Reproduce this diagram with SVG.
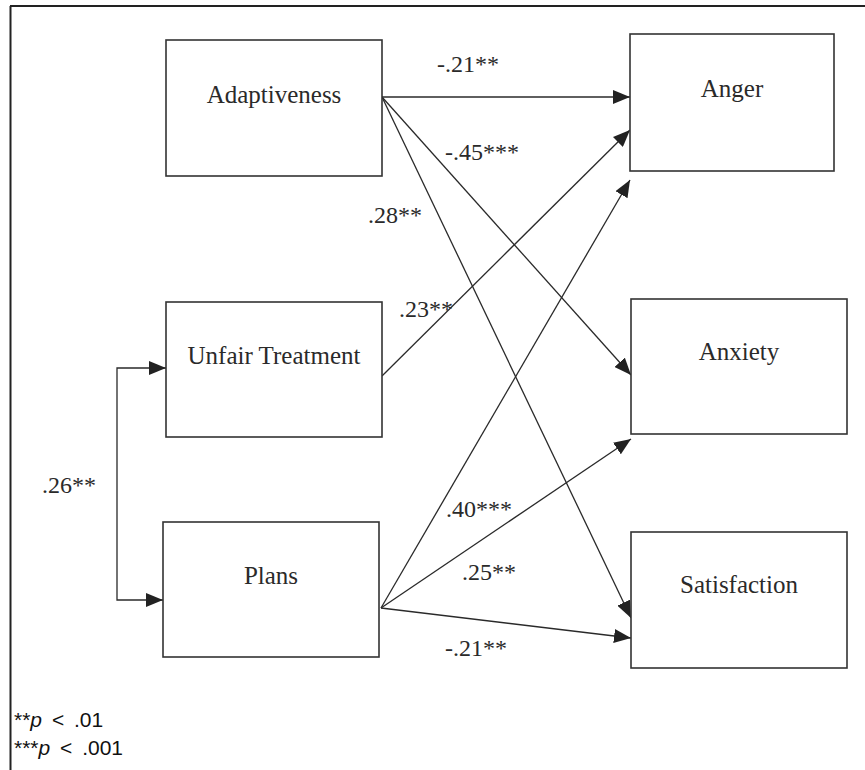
<svg xmlns="http://www.w3.org/2000/svg" width="865" height="770" viewBox="0 0 865 770">
<defs>
<marker id="ah" markerUnits="userSpaceOnUse" markerWidth="18" markerHeight="14" refX="17" refY="7" orient="auto">
<path d="M0,0 L17,7 L0,14 Z" fill="#222"/>
</marker>
<marker id="ahs" markerUnits="userSpaceOnUse" markerWidth="18" markerHeight="14" refX="0" refY="7" orient="auto">
<path d="M17,0 L0,7 L17,14 Z" fill="#222"/>
</marker>
</defs>
<style>
.box{fill:#fff;stroke:#333;stroke-width:1.6}
.lbl{font-family:"Liberation Serif","Times New Roman",serif;font-size:25px;fill:#2a2a2a;text-anchor:middle}
.coef{font-family:"Liberation Serif","Times New Roman",serif;font-size:24px;fill:#2a2a2a}
.edge{fill:none;stroke:#2a2a2a;stroke-width:1.3}
.arr{marker-end:url(#ah)}
.leg{font-family:"Liberation Sans",Arial,sans-serif;font-size:21px;fill:#111;word-spacing:4px}
</style>
<rect width="865" height="770" fill="#fff"/>
<g id="frame" stroke="#222" stroke-width="2" fill="none">
<line x1="10" y1="6" x2="865" y2="6"/>
<line x1="10.5" y1="6" x2="10.5" y2="770"/>
</g>
<g id="connectors">
<line class="edge arr" x1="382" y1="97" x2="630" y2="97"/>
<line class="edge arr" x1="382" y1="97" x2="631" y2="375"/>
<line class="edge arr" x1="382" y1="97" x2="631" y2="618"/>
<line class="edge arr" x1="382" y1="376" x2="630" y2="130"/>
<line class="edge arr" x1="381" y1="608" x2="630" y2="180"/>
<line class="edge arr" x1="381" y1="608" x2="631" y2="439"/>
<line class="edge arr" x1="381" y1="608" x2="631" y2="638"/>
<path class="edge" d="M166,368 L117,368 L117,600 L163,600" marker-start="url(#ahs)" marker-end="url(#ah)"/>
</g>
<g id="labels">
<text class="coef" x="437" y="72">-.21**</text>
<text class="coef" x="445" y="160">-.45***</text>
<text class="coef" x="368" y="223">.28**</text>
<text class="coef" x="399" y="317">.23**</text>
<text class="coef" x="42" y="493">.26**</text>
<text class="coef" x="446" y="517">.40***</text>
<text class="coef" x="462" y="580">.25**</text>
<text class="coef" x="445" y="656">-.21**</text>
</g>
<g id="adaptiveness">
<rect class="box" x="166" y="40" width="216" height="136"/>
<text class="lbl" x="274" y="103">Adaptiveness</text>
</g>
<g id="unfair">
<rect class="box" x="166" y="302" width="216" height="135"/>
<text class="lbl" x="274" y="364">Unfair Treatment</text>
</g>
<g id="plans">
<rect class="box" x="163" y="522" width="216" height="135"/>
<text class="lbl" x="271" y="584">Plans</text>
</g>
<g id="anger">
<rect class="box" x="630" y="34" width="204" height="137"/>
<text class="lbl" x="732" y="97">Anger</text>
</g>
<g id="anxiety">
<rect class="box" x="631" y="299" width="216" height="135"/>
<text class="lbl" x="739" y="360">Anxiety</text>
</g>
<g id="satisfaction">
<rect class="box" x="631" y="532" width="216" height="136"/>
<text class="lbl" x="739" y="593">Satisfaction</text>
</g>
<g id="legend">
<text class="leg" x="14" y="727">**<tspan font-style="italic">p</tspan> &lt; .01</text>
<text class="leg" x="14" y="755">***<tspan font-style="italic">p</tspan> &lt; .001</text>
</g>
</svg>
